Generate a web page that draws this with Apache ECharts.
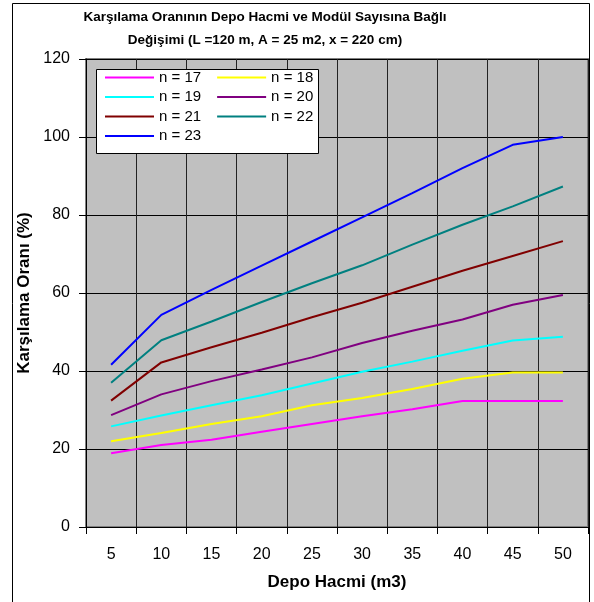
<!DOCTYPE html>
<html>
<head>
<meta charset="utf-8">
<script src="https://cdn.jsdelivr.net/npm/echarts@6/dist/echarts.min.js"></script>
<style>html,body{margin:0;padding:0;background:#fff}#c{width:594px;height:602px}</style>
</head>
<body>
<div id="c"></div>
<script>
const categories = ['5','10','15','20','25','30','35','40','45','50'];
const n17 = [18.9, 21.0, 22.4, 24.4, 26.4, 28.4, 30.2, 32.3, 32.3, 32.3];
const n18 = [22.0, 24.1, 26.4, 28.4, 31.2, 33.1, 35.4, 38.0, 39.6, 39.6];
const n19 = [25.8, 28.6, 31.2, 33.8, 36.8, 39.8, 42.4, 45.2, 47.8, 48.8];
const n20 = [28.7, 34.0, 37.4, 40.4, 43.5, 47.2, 50.3, 53.2, 57.0, 59.5];
const n21 = [32.4, 42.2, 46.1, 49.8, 53.8, 57.5, 61.6, 65.7, 69.5, 73.3];
const n22 = [37.0, 47.9, 52.7, 57.7, 62.5, 67.1, 72.4, 77.5, 82.2, 87.3];
const n23 = [41.6, 54.4, 60.8, 67.0, 73.2, 79.4, 85.6, 92.0, 98.0, 100.0];
const yTicks = [0, 20, 40, 60, 80, 100, 120];

const seriesNames = ['n = 17','n = 18','n = 19','n = 20','n = 21','n = 22','n = 23'];
const seriesData = [n17, n18, n19, n20, n21, n22, n23];
const colors = ['#FF00FF','#FFFF00','#00FFFF','#800080','#800000','#008080','#0000FF'];

const chart = echarts.init(document.getElementById('c'), null, {renderer: 'canvas'});
const FONT = 'Liberation Sans, Arial, sans-serif';

const legendRows = [[0,1],[2,3],[4,5],[6]];
const rowCenters = [79, 98.5, 118, 137.5];

const option = {
  animation: false,
  backgroundColor: '#fff',
  color: colors,
  title: {
    text: 'Karşılama Oranının Depo Hacmi ve Modül Sayısına Bağlı\nDeğişimi (L =120 m, A = 25 m2, x = 220 cm)',
    left: 265, top: 5.5, textAlign: 'center', padding: 0,
    textStyle: {fontFamily: FONT, fontSize: 13.5, fontWeight: 'bold', color: '#000', lineHeight: 23}
  },
  grid: {left: 86, top: 59, right: 6, bottom: 75, show: true, backgroundColor: '#C0C0C0', borderColor: '#808080', borderWidth: 2},
  legend: legendRows.map((row, i) => ({
    data: row.map(k => seriesNames[k]),
    left: 105, top: rowCenters[i] - 9, orient: 'horizontal', padding: 0,
    icon: 'rect', itemWidth: 49, itemHeight: 2, itemGap: 16, selectedMode: false, z: 20,
    textStyle: {fontFamily: FONT, fontSize: 15, color: '#000'}
  })),
  xAxis: {
    type: 'category', data: categories, boundaryGap: true,
    name: 'Depo Hacmi (m3)', nameLocation: 'middle', nameGap: 47,
    nameTextStyle: {fontFamily: FONT, fontSize: 17, fontWeight: 'bold', color: '#000'},
    axisLine: {lineStyle: {color: '#000', width: 1}},
    axisTick: {show: true, length: 7, lineStyle: {color: '#000'}},
    axisLabel: {fontFamily: FONT, fontSize: 16, color: '#000', margin: 20},
    splitLine: {show: true, lineStyle: {color: '#222', width: 1}}
  },
  yAxis: {
    type: 'value', min: 0, max: 120, interval: 20,
    name: 'Karşılama Oranı (%)', nameLocation: 'middle', nameGap: 52,
    nameTextStyle: {fontFamily: FONT, fontSize: 17, fontWeight: 'bold', color: '#000'},
    axisLine: {show: true, lineStyle: {color: '#000', width: 1}},
    axisTick: {show: true, length: 7, lineStyle: {color: '#000'}},
    axisLabel: {fontFamily: FONT, fontSize: 16, color: '#000', margin: 16,
      formatter: v => yTicks.includes(v) ? String(v) : ''},
    splitLine: {show: true, lineStyle: {color: '#000', width: 1}}
  },
  graphic: [
    {type: 'rect', shape: {x: 12.5, y: 3.5, width: 577, height: 610}, style: {fill: 'none', stroke: '#000', lineWidth: 1}, z: 0, silent: true},
    {type: 'rect', shape: {x: 96.5, y: 69.5, width: 222, height: 84}, style: {fill: '#fff', stroke: '#000', lineWidth: 1}, z: 10, silent: true}
  ],
  series: seriesNames.map((nm, i) => ({
    name: nm, type: 'line', data: seriesData[i], symbol: 'none',
    lineStyle: {color: colors[i], width: 2}, itemStyle: {color: colors[i]}, z: 3
  }))
};
chart.setOption(option);
</script>
</body>
</html>
